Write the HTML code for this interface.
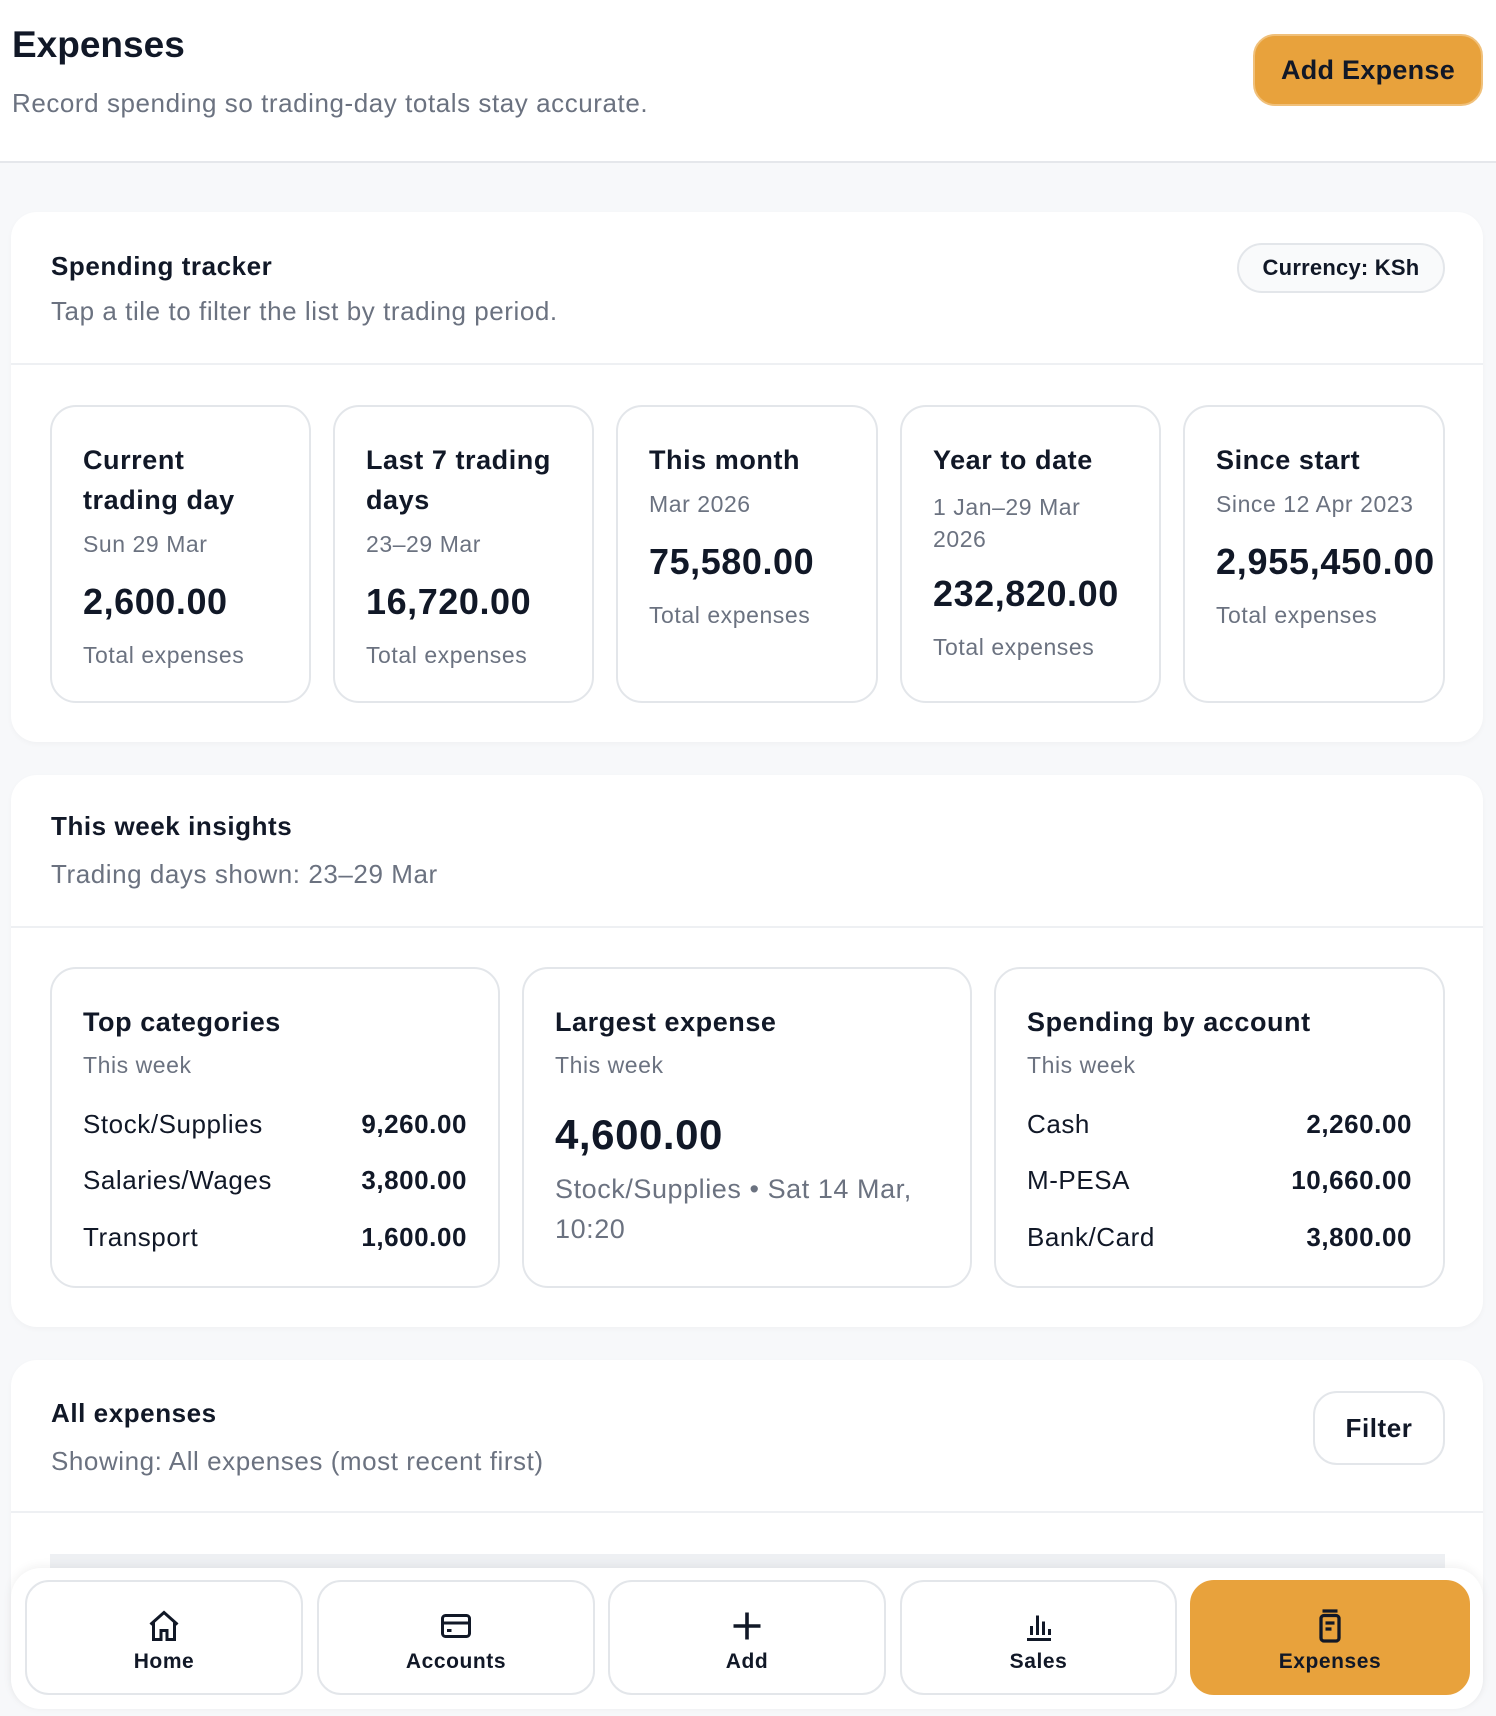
<!DOCTYPE html>
<html><head><meta charset="utf-8"><style>
*{box-sizing:border-box;margin:0;padding:0}
body{width:1496px;height:1716px;overflow:hidden;background:#f7f8fa;font-family:"Liberation Sans",sans-serif;color:#111827;position:relative;letter-spacing:0.035em}
.a{position:absolute;white-space:nowrap}
.hdr{position:absolute;left:0;top:0;width:1496px;height:163px;background:#fff;border-bottom:2px solid #e5e7eb}
.card{position:absolute;left:11px;width:1472px;background:#fff;border-radius:26px;box-shadow:0 2px 6px rgba(0,0,0,0.03)}
.div{position:absolute;left:0;width:100%;height:2px;background:#eef0f3}
.tile{position:absolute;border:2px solid #e3e6ea;border-radius:26px;background:#fff}
.t{font-weight:bold;font-size:27px;line-height:40px}
.g{color:#6b7280}
.nav{position:absolute;top:12px;height:115px;border:2px solid #e3e6ea;border-radius:24px;background:#fff;text-align:center}
.nav span{position:absolute;left:0;right:0;top:68px;font-size:21px;font-weight:bold}
.nav svg{position:absolute;left:50%;top:26px;margin-left:-18px}
.row{position:absolute;left:31px;right:31px;font-size:26px}
.row b{float:right}
</style></head><body>
<div class="hdr">
<div class="a" style="left:12px;top:24px;font-size:37px;font-weight:bold;letter-spacing:0">Expenses</div>
<div class="a g" style="left:12px;top:88px;font-size:26px">Record spending so trading-day totals stay accurate.</div>
<div class="a" style="left:1253px;top:34px;width:230px;height:72px;background:#e8a23c;border-radius:22px;border:2px solid #f0c07a;font-size:27px;font-weight:bold;text-align:center;line-height:68px;letter-spacing:0.01em">Add Expense</div>
</div>

<div class="card" style="top:212px;height:530px">
<div class="a t" style="left:40px;top:34px;font-size:26px">Spending tracker</div>
<div class="a g" style="left:40px;top:84px;font-size:26px">Tap a tile to filter the list by trading period.</div>
<div class="a" style="left:1226px;top:31px;width:208px;height:50px;border:2px solid #e3e6ea;border-radius:25px;background:#f9fafb;text-align:center;line-height:46px;font-size:22px;font-weight:bold;letter-spacing:0.01em">Currency: KSh</div>
<div class="div" style="top:151px"></div>
</div>
<div class="tile" style="left:50px;top:405px;width:261px;height:298px">
<div class="a t" style="left:31px;top:33px">Current<br>trading day</div>
<div class="a g" style="left:31px;top:124px;font-size:23px">Sun 29 Mar</div>
<div class="a" style="left:31px;top:174px;font-size:36px;font-weight:bold">2,600.00</div>
<div class="a g" style="left:31px;top:235px;font-size:23px">Total expenses</div>
</div>
<div class="tile" style="left:333px;top:405px;width:261px;height:298px">
<div class="a t" style="left:31px;top:33px">Last 7 trading<br>days</div>
<div class="a g" style="left:31px;top:124px;font-size:23px">23–29 Mar</div>
<div class="a" style="left:31px;top:174px;font-size:36px;font-weight:bold">16,720.00</div>
<div class="a g" style="left:31px;top:235px;font-size:23px">Total expenses</div>
</div>
<div class="tile" style="left:616px;top:405px;width:262px;height:298px">
<div class="a t" style="left:31px;top:33px">This month</div>
<div class="a g" style="left:31px;top:84px;font-size:23px">Mar 2026</div>
<div class="a" style="left:31px;top:134px;font-size:36px;font-weight:bold">75,580.00</div>
<div class="a g" style="left:31px;top:195px;font-size:23px">Total expenses</div>
</div>
<div class="tile" style="left:900px;top:405px;width:261px;height:298px">
<div class="a t" style="left:31px;top:33px">Year to date</div>
<div class="a g" style="left:31px;top:84px;font-size:23px;line-height:32px">1 Jan–29 Mar<br>2026</div>
<div class="a" style="left:31px;top:166px;font-size:36px;font-weight:bold">232,820.00</div>
<div class="a g" style="left:31px;top:227px;font-size:23px">Total expenses</div>
</div>
<div class="tile" style="left:1183px;top:405px;width:262px;height:298px">
<div class="a t" style="left:31px;top:33px">Since start</div>
<div class="a g" style="left:31px;top:84px;font-size:23px">Since 12 Apr 2023</div>
<div class="a" style="left:31px;top:134px;font-size:36px;font-weight:bold;letter-spacing:0.02em">2,955,450.00</div>
<div class="a g" style="left:31px;top:195px;font-size:23px">Total expenses</div>
</div>

<div class="card" style="top:775px;height:552px">
<div class="a t" style="left:40px;top:31px;font-size:26px">This week insights</div>
<div class="a g" style="left:40px;top:84px;font-size:26px">Trading days shown: 23–29 Mar</div>
<div class="div" style="top:151px"></div>
</div>
<div class="tile" style="left:50px;top:967px;width:450px;height:321px">
<div class="a t" style="left:31px;top:33px">Top categories</div>
<div class="a g" style="left:31px;top:83px;font-size:23px">This week</div>
<div class="row" style="top:140px">Stock/Supplies<b>9,260.00</b></div>
<div class="row" style="top:196px">Salaries/Wages<b>3,800.00</b></div>
<div class="row" style="top:253px">Transport<b>1,600.00</b></div>
</div>
<div class="tile" style="left:522px;top:967px;width:450px;height:321px">
<div class="a t" style="left:31px;top:33px">Largest expense</div>
<div class="a g" style="left:31px;top:83px;font-size:23px">This week</div>
<div class="a" style="left:31px;top:142px;font-size:42px;font-weight:bold">4,600.00</div>
<div class="a g" style="left:31px;top:200px;font-size:27px;line-height:40px">Stock/Supplies • Sat 14 Mar,<br>10:20</div>
</div>
<div class="tile" style="left:994px;top:967px;width:451px;height:321px">
<div class="a t" style="left:31px;top:33px">Spending by account</div>
<div class="a g" style="left:31px;top:83px;font-size:23px">This week</div>
<div class="row" style="top:140px">Cash<b>2,260.00</b></div>
<div class="row" style="top:196px">M-PESA<b>10,660.00</b></div>
<div class="row" style="top:253px">Bank/Card<b>3,800.00</b></div>
</div>

<div class="card" style="top:1360px;height:345px">
<div class="a t" style="left:40px;top:33px;font-size:26px">All expenses</div>
<div class="a g" style="left:40px;top:86px;font-size:26px">Showing: All expenses (most recent first)</div>
<div class="a" style="left:1302px;top:31px;width:132px;height:74px;border:2px solid #e3e6ea;border-radius:24px;text-align:center;line-height:70px;font-size:26px;font-weight:bold">Filter</div>
<div class="div" style="top:151px"></div>
<div class="a" style="left:39px;top:194px;width:1395px;height:14px;background:#eef0f3"></div>
</div>

<div class="a" style="left:11px;top:1568px;width:1472px;height:141px;background:#fff;border-radius:30px;box-shadow:0 -2px 10px rgba(0,0,0,0.06)">
<div class="nav" style="left:14px;width:278px"><svg width="36" height="36" viewBox="0 0 24 24" fill="none" stroke="#111827" stroke-width="2"><path d="M3 11l9-8 9 8M5 9v12h5v-6h4v6h5V9"/></svg><span>Home</span></div>
<div class="nav" style="left:306px;width:278px"><svg width="36" height="36" viewBox="0 0 24 24" fill="none" stroke="#111827" stroke-width="2"><rect x="3" y="5" width="18" height="14" rx="2"/><path d="M3 10h18M6 15h3"/></svg><span>Accounts</span></div>
<div class="nav" style="left:597px;width:278px"><svg width="36" height="36" viewBox="0 0 24 24" fill="none" stroke="#111827" stroke-width="2.4"><path d="M12 3v18M3 12h18"/></svg><span>Add</span></div>
<div class="nav" style="left:889px;width:277px"><svg width="36" height="36" viewBox="0 0 24 24" fill="none" stroke="#111827" stroke-width="2"><path d="M4 21h16M7 18v-6M11 18V5M15 18v-9M19 18v-4"/></svg><span>Sales</span></div>
<div class="nav" style="left:1179px;width:280px;background:#e8a23c;border-color:#e8a23c"><svg width="36" height="36" viewBox="0 0 24 24" fill="none" stroke="#111827" stroke-width="2.2"><rect x="6" y="5" width="12" height="17" rx="2"/><path d="M7 2h10M9 10h6M9 14h4"/></svg><span>Expenses</span></div>
</div>
</body></html>
